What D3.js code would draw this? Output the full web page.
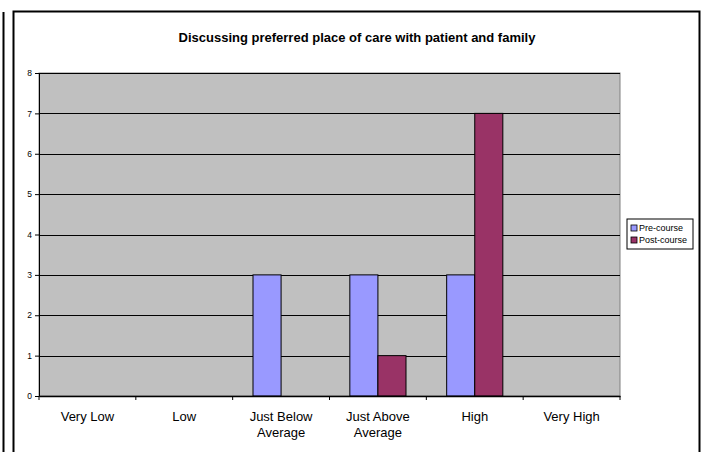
<!DOCTYPE html>
<html>
<head>
<meta charset="utf-8">
<script src="https://cdn.jsdelivr.net/npm/d3@7"></script>
<style>
  body { margin: 0; background: #fff; }
  text { font-family: "Liberation Sans", Arial, sans-serif; }
</style>
</head>
<body>
<script>
// data
var categories = ["Very Low", "Low", "Just Below Average", "Just Above Average", "High", "Very High"];
var seriesNames = ["Pre-course", "Post-course"];
var preCourse = [0, 0, 3, 3, 3, 0];
var postCourse = [0, 0, 0, 1, 7, 0];
var yTicks = [0, 1, 2, 3, 4, 5, 6, 7, 8];
var colors = ["#9999ff", "#993366"];

var W = 705, H = 452;
var margin = {top: 73, left: 39, right: 85, bottom: 56};
var width = W - margin.left - margin.right,
    height = H - margin.top - margin.bottom;

var svg = d3.select("body").append("svg")
    .attr("width", W)
    .attr("height", H);

// outer frames
svg.append("line")
    .attr("x1", 3.5).attr("y1", 12).attr("x2", 3.5).attr("y2", H)
    .attr("stroke", "#000").attr("stroke-width", 2);
svg.append("rect")
    .attr("x", 13.5).attr("y", 11.5)
    .attr("width", 686).attr("height", 460)
    .attr("fill", "#fff")
    .attr("stroke", "#000").attr("stroke-width", 2);

// title
svg.append("text")
    .attr("x", 357).attr("y", 42)
    .attr("text-anchor", "middle")
    .style("font-size", "13px")
    .style("font-weight", "bold")
    .text("Discussing preferred place of care with patient and family");

var g = svg.append("g")
    .attr("transform", "translate(" + margin.left + "," + margin.top + ")");

var x = d3.scaleBand().domain(categories).range([0, width]).paddingInner(0).paddingOuter(0);
var x1 = d3.scaleBand().domain(seriesNames).range([0, x.bandwidth() * 0.58]);
var y = d3.scaleLinear().domain([0, 8]).range([height, 0]);

// plot area
g.append("rect")
    .attr("width", width).attr("height", height)
    .attr("fill", "#c0c0c0")
    .attr("stroke", "#808080").attr("stroke-width", 1);

// gridlines
g.selectAll(".grid").data(yTicks.slice(1))
  .enter().append("line")
    .attr("x1", 0).attr("x2", width)
    .attr("y1", function(d){ return Math.round(y(d)) + 0.5; })
    .attr("y2", function(d){ return Math.round(y(d)) + 0.5; })
    .attr("stroke", "#000").attr("stroke-width", 1);

// bars
var rows = categories.map(function(c, i){ return {cat: c, vals: [preCourse[i], postCourse[i]]}; });
var offset = (x.bandwidth() - x.bandwidth() * 0.58) / 2;

var groups = g.selectAll(".grp").data(rows)
  .enter().append("g")
    .attr("transform", function(d){ return "translate(" + (x(d.cat) + offset) + ",0)"; });

groups.selectAll("rect")
  .data(function(d){ return d.vals.map(function(v, j){ return {s: seriesNames[j], v: v, j: j}; }); })
  .enter().filter(function(d){ return d.v > 0; }).append("rect")
    .attr("x", function(d){ return x1(d.s); })
    .attr("y", function(d){ return y(d.v); })
    .attr("width", x1.bandwidth())
    .attr("height", function(d){ return height - y(d.v); })
    .attr("fill", function(d){ return colors[d.j]; })
    .attr("stroke", "#000").attr("stroke-width", 1);

// y axis
var yAxis = g.append("g")
    .call(d3.axisLeft(y).tickValues(yTicks).tickSize(4).tickPadding(3));
yAxis.select(".domain").attr("stroke", "#000");
yAxis.selectAll("text").style("font-size", "8.5px").style("font-family", "Liberation Sans, Arial, sans-serif");

// x axis
var xAxis = g.append("g")
    .attr("transform", "translate(0," + height + ")")
    .call(d3.axisBottom(x).tickSize(0).tickFormat(""));
xAxis.select(".domain").attr("stroke", "#000").attr("stroke-width", 1.5);
xAxis.selectAll(".sep").data(d3.range(categories.length + 1))
  .enter().append("line")
    .attr("x1", function(i){ return i * x.bandwidth(); })
    .attr("x2", function(i){ return i * x.bandwidth(); })
    .attr("y1", 0).attr("y2", 4)
    .attr("stroke", "#000");

var labelLines = {"Just Below Average": ["Just Below", "Average"], "Just Above Average": ["Just Above", "Average"]};
g.selectAll(".xlab").data(categories)
  .enter().append("text")
    .attr("x", function(d){ return x(d) + x.bandwidth() / 2; })
    .attr("y", height + 25)
    .attr("text-anchor", "middle")
    .style("font-size", "13px")
    .each(function(d){
      var lines = labelLines[d] || [d];
      var t = d3.select(this);
      lines.forEach(function(l, k){
        t.append("tspan").attr("x", x(d) + x.bandwidth() / 2).attr("dy", k === 0 ? 0 : 16).text(l);
      });
    });

// legend
var lg = svg.append("g").attr("transform", "translate(627,219)");
lg.append("rect").attr("width", 66).attr("height", 30)
    .attr("fill", "#fff").attr("stroke", "#000").attr("stroke-width", 1);
seriesNames.forEach(function(s, i){
  lg.append("rect").attr("x", 4).attr("y", 6 + i * 12).attr("width", 6).attr("height", 6)
    .attr("fill", colors[i]).attr("stroke", "#000").attr("stroke-width", 0.8);
  lg.append("text").attr("x", 12).attr("y", 12 + i * 12)
    .style("font-size", "9px").text(s);
});
</script>
</body>
</html>
